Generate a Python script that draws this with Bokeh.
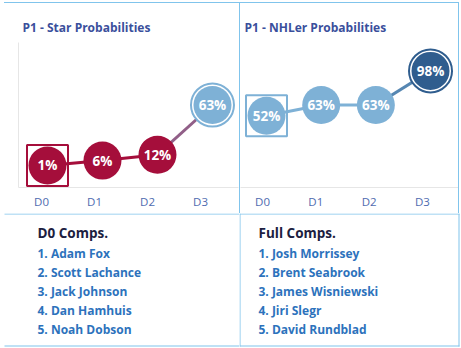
from bokeh.plotting import figure
from bokeh.layouts import row, column
from bokeh.models import Range1d, BoxAnnotation, FixedTicker, Spacer, LinearAxis
from bokeh.core.properties import value
from bokeh.embed import file_html
from bokeh.resources import INLINE

# ---------------- data ----------------
stages = ["D0", "D1", "D2", "D3"]
star_prob = [1, 6, 12, 63]
nhler_prob = [52, 63, 63, 98]
d0_comps = ["Adam Fox", "Scott Lachance", "Jack Johnson", "Dan Hamhuis", "Noah Dobson"]
full_comps = ["Josh Morrissey", "Brent Seabrook", "James Wisniewski", "Jiri Slegr", "David Rundblad"]

# ---------------- style ----------------
RED = "#a50e3b"
LIGHT = "#7eb1d6"
DARK = "#2f5d8e"
BORDER = "#80c4ec"
AXIS = "#e6e6e6"
TITLE_C = "#3a4f9c"
TICK_C = "#4f6bb0"
HEAD_C = "#1c2040"
NAME_C = "#2c72bc"
FONT = "Open Sans"


def bin_color(v):
    if v < 50:
        return RED
    if v < 90:
        return LIGHT
    return DARK


def mix(c1, c2):
    a = [int(c1[i:i + 2], 16) for i in (1, 3, 5)]
    b = [int(c2[i:i + 2], 16) for i in (1, 3, 5)]
    return "#" + "".join(f"{(x + y) // 2:02x}" for x, y in zip(a, b))


def border(p, left, right, top, bottom):
    p.add_layout(BoxAnnotation(left=left, right=right, top=top, bottom=bottom,
                               left_units="canvas", right_units="canvas",
                               top_units="canvas", bottom_units="canvas",
                               fill_color=BORDER, fill_alpha=1.0, line_color=None,
                               level="overlay"))


def chart(title, vals, width, x_start, x_end, tick_start, tick_end,
          min_left, min_right, show_y):
    p = figure(width=width, height=210, x_range=Range1d(x_start, x_end),
               y_range=Range1d(-21.6, 127.1), output_backend="svg",
               toolbar_location=None, min_border_left=min_left,
               min_border_right=min_right, min_border_top=39, min_border_bottom=26,
               title=title)
    p.title.text_font = FONT
    p.title.text_font_size = "12px"
    p.title.text_font_style = "bold"
    p.title.text_color = TITLE_C
    p.title.align = "left"
    p.title.offset = 4
    p.title.standoff = 14
    p.outline_line_color = None
    p.xgrid.visible = False
    p.ygrid.visible = False

    xs = list(range(len(stages)))
    # stage labels on their own axis (Tableau places them slightly left of the marks)
    p.xaxis.visible = False
    p.extra_x_ranges = {"stage": Range1d(tick_start, tick_end)}
    ax = LinearAxis(x_range_name="stage", ticker=FixedTicker(ticks=xs),
                    major_label_overrides={i: s for i, s in enumerate(stages)},
                    major_tick_line_color=None, minor_tick_line_color=None,
                    axis_line_color=AXIS, major_label_text_color=TICK_C,
                    major_label_text_font=FONT, major_label_text_font_size="11.5px",
                    major_label_standoff=0)
    p.add_layout(ax, "below")
    if show_y:
        p.yaxis.ticker = FixedTicker(ticks=[])
        p.yaxis.major_tick_line_color = None
        p.yaxis.minor_tick_line_color = None
        p.yaxis.major_label_text_font_size = "0px"
        p.yaxis.axis_line_color = AXIS
    else:
        p.yaxis.visible = False

    colors = [bin_color(v) for v in vals]
    seg_colors = [mix(colors[i], colors[i + 1]) for i in range(len(vals) - 1)]
    p.segment(x0=xs[:-1], y0=vals[:-1], x1=xs[1:], y1=vals[1:],
              line_color=seg_colors, line_width=3)
    # highlight square on first stage
    p.scatter(x=xs[:1], y=vals[:1], marker="square", size=41, fill_color=None,
              line_color=colors[0], line_width=2)
    # ring on last stage
    p.scatter(x=xs[-1:], y=vals[-1:], marker="circle", size=43, fill_color="white",
              line_color=colors[-1], line_width=2)
    p.scatter(x=xs, y=vals, marker="circle", size=38, fill_color=colors, line_color=None)
    p.text(x=xs, y=vals, text=[f"{v}%" for v in vals], text_align="center",
           text_baseline="middle", text_color="white", text_font=value(FONT),
           text_font_style="bold", text_font_size="13.5px")
    return p


def comps(header, names, width, tx):
    p = figure(width=width, height=135, x_range=Range1d(0, width),
               y_range=Range1d(5.0, -2.105), output_backend="svg",
               toolbar_location=None, min_border=0)
    p.axis.visible = False
    p.xgrid.visible = False
    p.ygrid.visible = False
    p.outline_line_color = None
    p.text(x=[tx], y=[-1.1], text=[header], text_baseline="middle",
           text_color=HEAD_C, text_font=value(FONT), text_font_style="bold",
           text_font_size="13.5px")
    p.text(x=[tx] * len(names), y=list(range(len(names))),
           text=[f"{i + 1}. {n}" for i, n in enumerate(names)],
           text_baseline="middle", text_color=NAME_C, text_font=value(FONT),
           text_font_style="bold", text_font_size="12px")
    return p


tl = chart("P1 - Star Probabilities", star_prob, 239, -0.527, 3.473,
           -0.434, 3.717, 18, 1, True)
tr = chart("P1 - NHLer Probabilities", nhler_prob, 218, -0.476, 3.512,
           -0.413, 3.677, 0, 0, False)
bl = comps("D0 Comps.", d0_comps, 239, 37)
br = comps("Full Comps.", full_comps, 222, 19)

border(bl, 4, 239, 0, 1)
border(bl, 4, 239, 132, 133)
border(br, 0, 220, 0, 1)
border(br, 0, 220, 132, 133)
border(br, 0, 1, 0, 133)
border(br, 219, 220, 0, 133)

top_line = Spacer(width=455, height=1, margin=(2, 2, 0, 4),
                  styles={"background-color": BORDER})
divider = Spacer(width=1, height=210, styles={"background-color": BORDER})
right_edge = Spacer(width=1, height=210, margin=(0, 2, 0, 0),
                    styles={"background-color": BORDER})

layout = column(top_line, row(tl, divider, tr, right_edge), row(bl, br))

with open("out.html", "w") as f:
    f.write(file_html(layout, INLINE))
